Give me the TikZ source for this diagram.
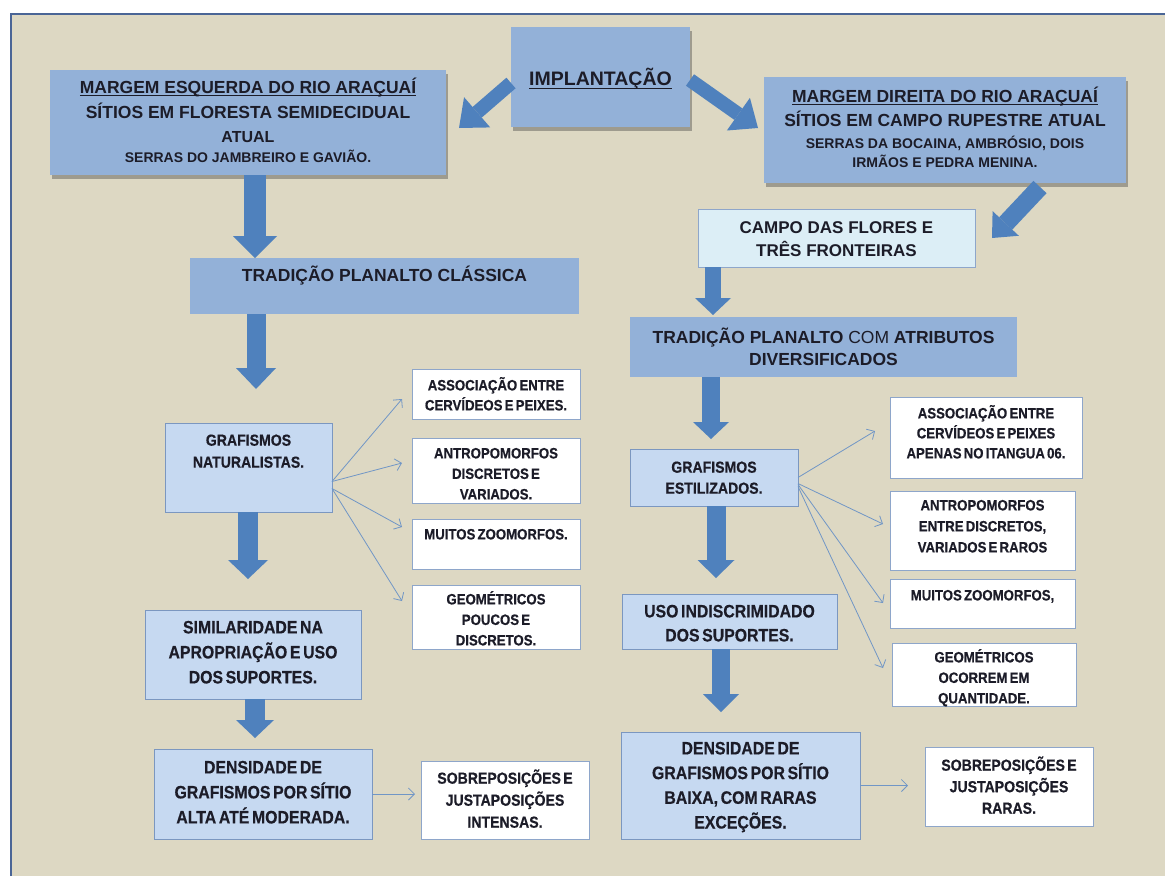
\documentclass[tikz,border=0pt]{standalone}
\usepackage{fontspec}
\setmainfont{Liberation Sans}
\newfontfamily\cond[FakeStretch=0.88,WordSpace=0.6,BoldFeatures={FakeBold=0.5}]{Liberation Sans}
\usetikzlibrary{arrows.meta,shadows,calc}
\definecolor{bg}{HTML}{DDD8C3}
\definecolor{frameblue}{HTML}{4A6596}
\definecolor{darkbox}{HTML}{93B1D8}
\definecolor{lightbox}{HTML}{C6D9F1}
\definecolor{lightborder}{HTML}{7B97C0}
\definecolor{whiteborder}{HTML}{8EA6CA}
\definecolor{campofill}{HTML}{DCEEF6}
\definecolor{arrowblue}{HTML}{4F81BD}
\definecolor{thinblue}{HTML}{7096C6}
\definecolor{txt}{HTML}{1C1C28}
\newcommand{\fs}[2]{\fontsize{#1pt}{#2pt}\selectfont}
\newcommand{\myul}[2]{\leavevmode\setbox0=\hbox{#2}\rlap{\raisebox{-#1}{\rule{\wd0}{1.3pt}}}\box0}
\newcommand{\bnode}[8]{\node[#1, minimum width=#5pt, text height=#6pt, text depth=#7pt] (#2) at (#3,#4) {\parbox[t]{#5pt}{\centering #8}};}
\tikzset{
  base/.style={anchor=north west, inner sep=0pt, outer sep=0pt, text=txt},
  darkb/.style={base, fill=darkbox, font=\bfseries},
  shadowb/.style={darkb, drop shadow={shadow xshift=1.5pt, shadow yshift=-4pt, opacity=.4, fill=black!75}},
  lightb/.style={base, fill=lightbox, draw=lightborder, line width=1pt, font=\cond\bfseries},
  whiteb/.style={base, fill=white, draw=whiteborder, line width=1pt, font=\cond\bfseries\fs{15}{20}},
  campob/.style={base, fill=campofill, draw=whiteborder, line width=1pt, font=\bfseries\fs{17}{23}},
  fat/.style n args={3}{draw=arrowblue, line width=#1pt, line cap=butt,
     -{Triangle[length=#3pt, width=#2pt, line width=0pt 0]}},
  thinarrow/.style={draw=thinblue, line width=0.8pt, -{Straight Barb[length=6pt, width=12pt]}}
}
\begin{document}
\begin{tikzpicture}[x=1pt,y=-1pt]
\useasboundingbox (0,0) rectangle (1165,876);
\fill[white] (0,0) rectangle (1165,876);
\fill[bg] (11,14) rectangle (1165,876);
\draw[frameblue, line width=2pt] (11,876) -- (11,14) -- (1165,14);

% top row
\bnode{shadowb, font=\bfseries\fs{19.5}{22}}{implant}{511}{27}{179}{58}{42}{\myul{4pt}{IMPLANTAÇÃO}}
\bnode{shadowb}{lefttop}{50}{70}{396}{23.3}{81.7}{\fs{17.5}{21}\myul{3pt}{MARGEM ESQUERDA DO RIO ARAÇUAÍ}\par
  \fs{17.5}{25}SÍTIOS EM FLORESTA SEMIDECIDUAL\par
  \fs{16}{24.4}ATUAL\par
  \fs{14}{19.3}SERRAS DO JAMBREIRO E GAVIÃO.\par}
\bnode{shadowb}{righttop}{764}{77}{362}{25.3}{80.7}{\fs{17.5}{21}\myul{3pt}{MARGEM DIREITA DO RIO ARAÇUAÍ}\par
  \fs{17.5}{24}SÍTIOS EM CAMPO RUPESTRE ATUAL\par
  \fs{14}{21.7}SERRAS DA BOCAINA, AMBRÓSIO, DOIS\par
  \fs{14}{19}IRMÃOS E PEDRA MENINA.\par}
\bnode{campob}{campo}{698}{209}{277}{24.1}{33.9}{CAMPO DAS FLORES E\\TRÊS FRONTEIRAS}

% tradition boxes
\bnode{darkb, font=\bfseries\fs{17.5}{22}}{trad1}{190}{258}{389}{23.3}{32.7}{TRADIÇÃO PLANALTO CLÁSSICA}
\bnode{darkb, font=\bfseries\fs{17.5}{22}}{trad2}{630}{317}{387}{26.3}{33.7}{TRADIÇÃO PLANALTO {\mdseries COM} ATRIBUTOS\\DIVERSIFICADOS}

% left column
\bnode{lightb, font=\cond\bfseries\fs{16}{22}}{grafnat}{165}{423}{167}{22.7}{66.3}{GRAFISMOS\\NATURALISTAS.}
\bnode{lightb, font=\cond\bfseries\fs{18}{25}}{simil}{145}{610}{216}{23.4}{65.6}{SIMILARIDADE NA\\APROPRIAÇÃO E USO\\DOS SUPORTES.}
\bnode{lightb, font=\cond\bfseries\fs{18}{25}}{densL}{154}{749}{218}{24.4}{65.6}{DENSIDADE DE\\GRAFISMOS POR SÍTIO\\ALTA ATÉ MODERADA.}
\bnode{whiteb, font=\cond\bfseries\fs{16}{22}}{sobrL}{421}{761}{168}{22.7}{55.3}{SOBREPOSIÇÕES E\\JUSTAPOSIÇÕES\\INTENSAS.}
\bnode{whiteb}{assocL}{412}{369}{168}{21.4}{28.6}{ASSOCIAÇÃO ENTRE\\CERVÍDEOS E PEIXES.}
\bnode{whiteb, font=\cond\bfseries\fs{15}{20.5}}{antroL}{412}{438}{168}{20.4}{44.6}{ANTROPOMORFOS\\DISCRETOS E\\VARIADOS.}
\bnode{whiteb}{muitosL}{412}{519}{168}{20.4}{29.6}{MUITOS ZOOMORFOS.}
\bnode{whiteb, font=\cond\bfseries\fs{15}{20.5}}{geomL}{412}{585}{168}{19.4}{44.6}{GEOMÉTRICOS\\POUCOS E\\DISCRETOS.}

% right column
\bnode{lightb, font=\cond\bfseries\fs{16}{21}}{grafest}{630}{449}{168}{23.7}{33.3}{GRAFISMOS\\ESTILIZADOS.}
\bnode{lightb, font=\cond\bfseries\fs{18}{24}}{uso}{622}{594}{215}{23.4}{31.6}{USO INDISCRIMIDADO\\DOS SUPORTES.}
\bnode{lightb, font=\cond\bfseries\fs{18}{24.7}}{densR}{621}{732}{239}{22.4}{84.6}{DENSIDADE DE\\GRAFISMOS POR SÍTIO\\BAIXA, COM RARAS\\EXCEÇÕES.}
\bnode{whiteb, font=\cond\bfseries\fs{16}{21.5}}{sobrR}{925}{747}{168}{23.7}{55.3}{SOBREPOSIÇÕES E\\JUSTAPOSIÇÕES\\RARAS.}
\bnode{whiteb}{assocR}{890}{397}{192}{21.4}{59.6}{ASSOCIAÇÃO ENTRE\\CERVÍDEOS E PEIXES\\APENAS NO ITANGUA 06.}
\bnode{whiteb, font=\cond\bfseries\fs{15}{21}}{antroR}{890}{491}{185}{19.4}{59.6}{ANTROPOMORFOS\\ENTRE DISCRETOS,\\VARIADOS E RAROS}
\bnode{whiteb}{muitosR}{890}{579}{185}{21.4}{27.6}{MUITOS ZOOMORFOS,}
\bnode{whiteb, font=\cond\bfseries\fs{15}{20.5}}{geomR}{892}{643}{184}{19.4}{43.6}{GEOMÉTRICOS\\OCORREM EM\\QUANTIDADE.}

% big arrows
\draw[fat={14}{40}{24}] ($(implant.west)+(0,6)$) -- ($(lefttop.north east)+(13,58)$);
\draw[fat={14}{40}{24}] ($(implant.east)+(0,3)$) -- ($(righttop.west)+(-6,-2)$);
\draw[fat={18}{36}{20}] ($(righttop.south)+(95,4)$) -- ($(campo.east)+(17,0)$);

\coordinate (a1) at ($(lefttop.south west)+(205,0)$);
\draw[fat={22}{44}{22}] (a1) -- (a1 |- trad1.north);
\coordinate (a2) at ($(trad1.south west)+(66,0)$);
\draw[fat={19}{40}{21}] (a2) -- ($(a2 |- grafnat.north)+(0,-34)$);
\coordinate (a3) at ($(grafnat.south west)+(83,0)$);
\draw[fat={20}{40}{19}] (a3) -- ($(a3 |- simil.north)+(0,-31)$);
\coordinate (a4) at ($(simil.south west)+(110,0)$);
\draw[fat={20}{38}{18}] (a4) -- ($(a4 |- densL.north)+(0,-11)$);

\coordinate (b1) at ($(campo.south west)+(15,0)$);
\draw[fat={16}{36}{17}] (b1) -- ($(b1 |- trad2.north)+(0,-2)$);
\coordinate (b2) at ($(trad2.south west)+(81,0)$);
\draw[fat={18}{36}{17}] (b2) -- ($(b2 |- grafest.north)+(0,-10)$);
\coordinate (b3) at ($(grafest.south west)+(86,0)$);
\draw[fat={19}{37}{18}] (b3) -- ($(b3 |- uso.north)+(0,-16)$);
\coordinate (b4) at ($(uso.south west)+(99,0)$);
\draw[fat={18}{36}{18}] (b4) -- ($(b4 |- densR.north)+(0,-20)$);

% thin arrows
\coordinate (l1) at ($(grafnat.east)+(0,14)$);
\coordinate (l2) at ($(grafnat.east)+(0,21)$);
\draw[thinarrow] (l1) -- ($(assocL.west)+(-10,5)$);
\draw[thinarrow] (l1) -- ($(antroL.west)+(-10,-7.5)$);
\draw[thinarrow] (l2) -- ($(muitosL.west)+(-10,-17)$);
\draw[thinarrow] (l2) -- ($(geomL.west)+(-10,-16)$);

\coordinate (r1) at ($(grafest.east)+(0,0)$);
\coordinate (r2) at ($(grafest.east)+(0,6)$);
\coordinate (r3) at ($(grafest.east)+(0,7)$);
\coordinate (r4) at ($(grafest.east)+(0,9)$);
\draw[thinarrow] (r1) -- ($(assocR.west)+(-15,-6.5)$);
\draw[thinarrow] (r2) -- ($(antroR.west)+(-7,-6.5)$);
\draw[thinarrow] (r3) -- ($(muitosR.west)+(-7,-0.5)$);
\draw[thinarrow] (r4) -- ($(geomR.west)+(-9,-6.5)$);

\draw[thinarrow, shorten >=6pt] (densL.east) -- (densL.east -| sobrL.west);
\draw[thinarrow, shorten >=17pt] (densR.east) -- (densR.east -| sobrR.west);
\end{tikzpicture}
\end{document}
